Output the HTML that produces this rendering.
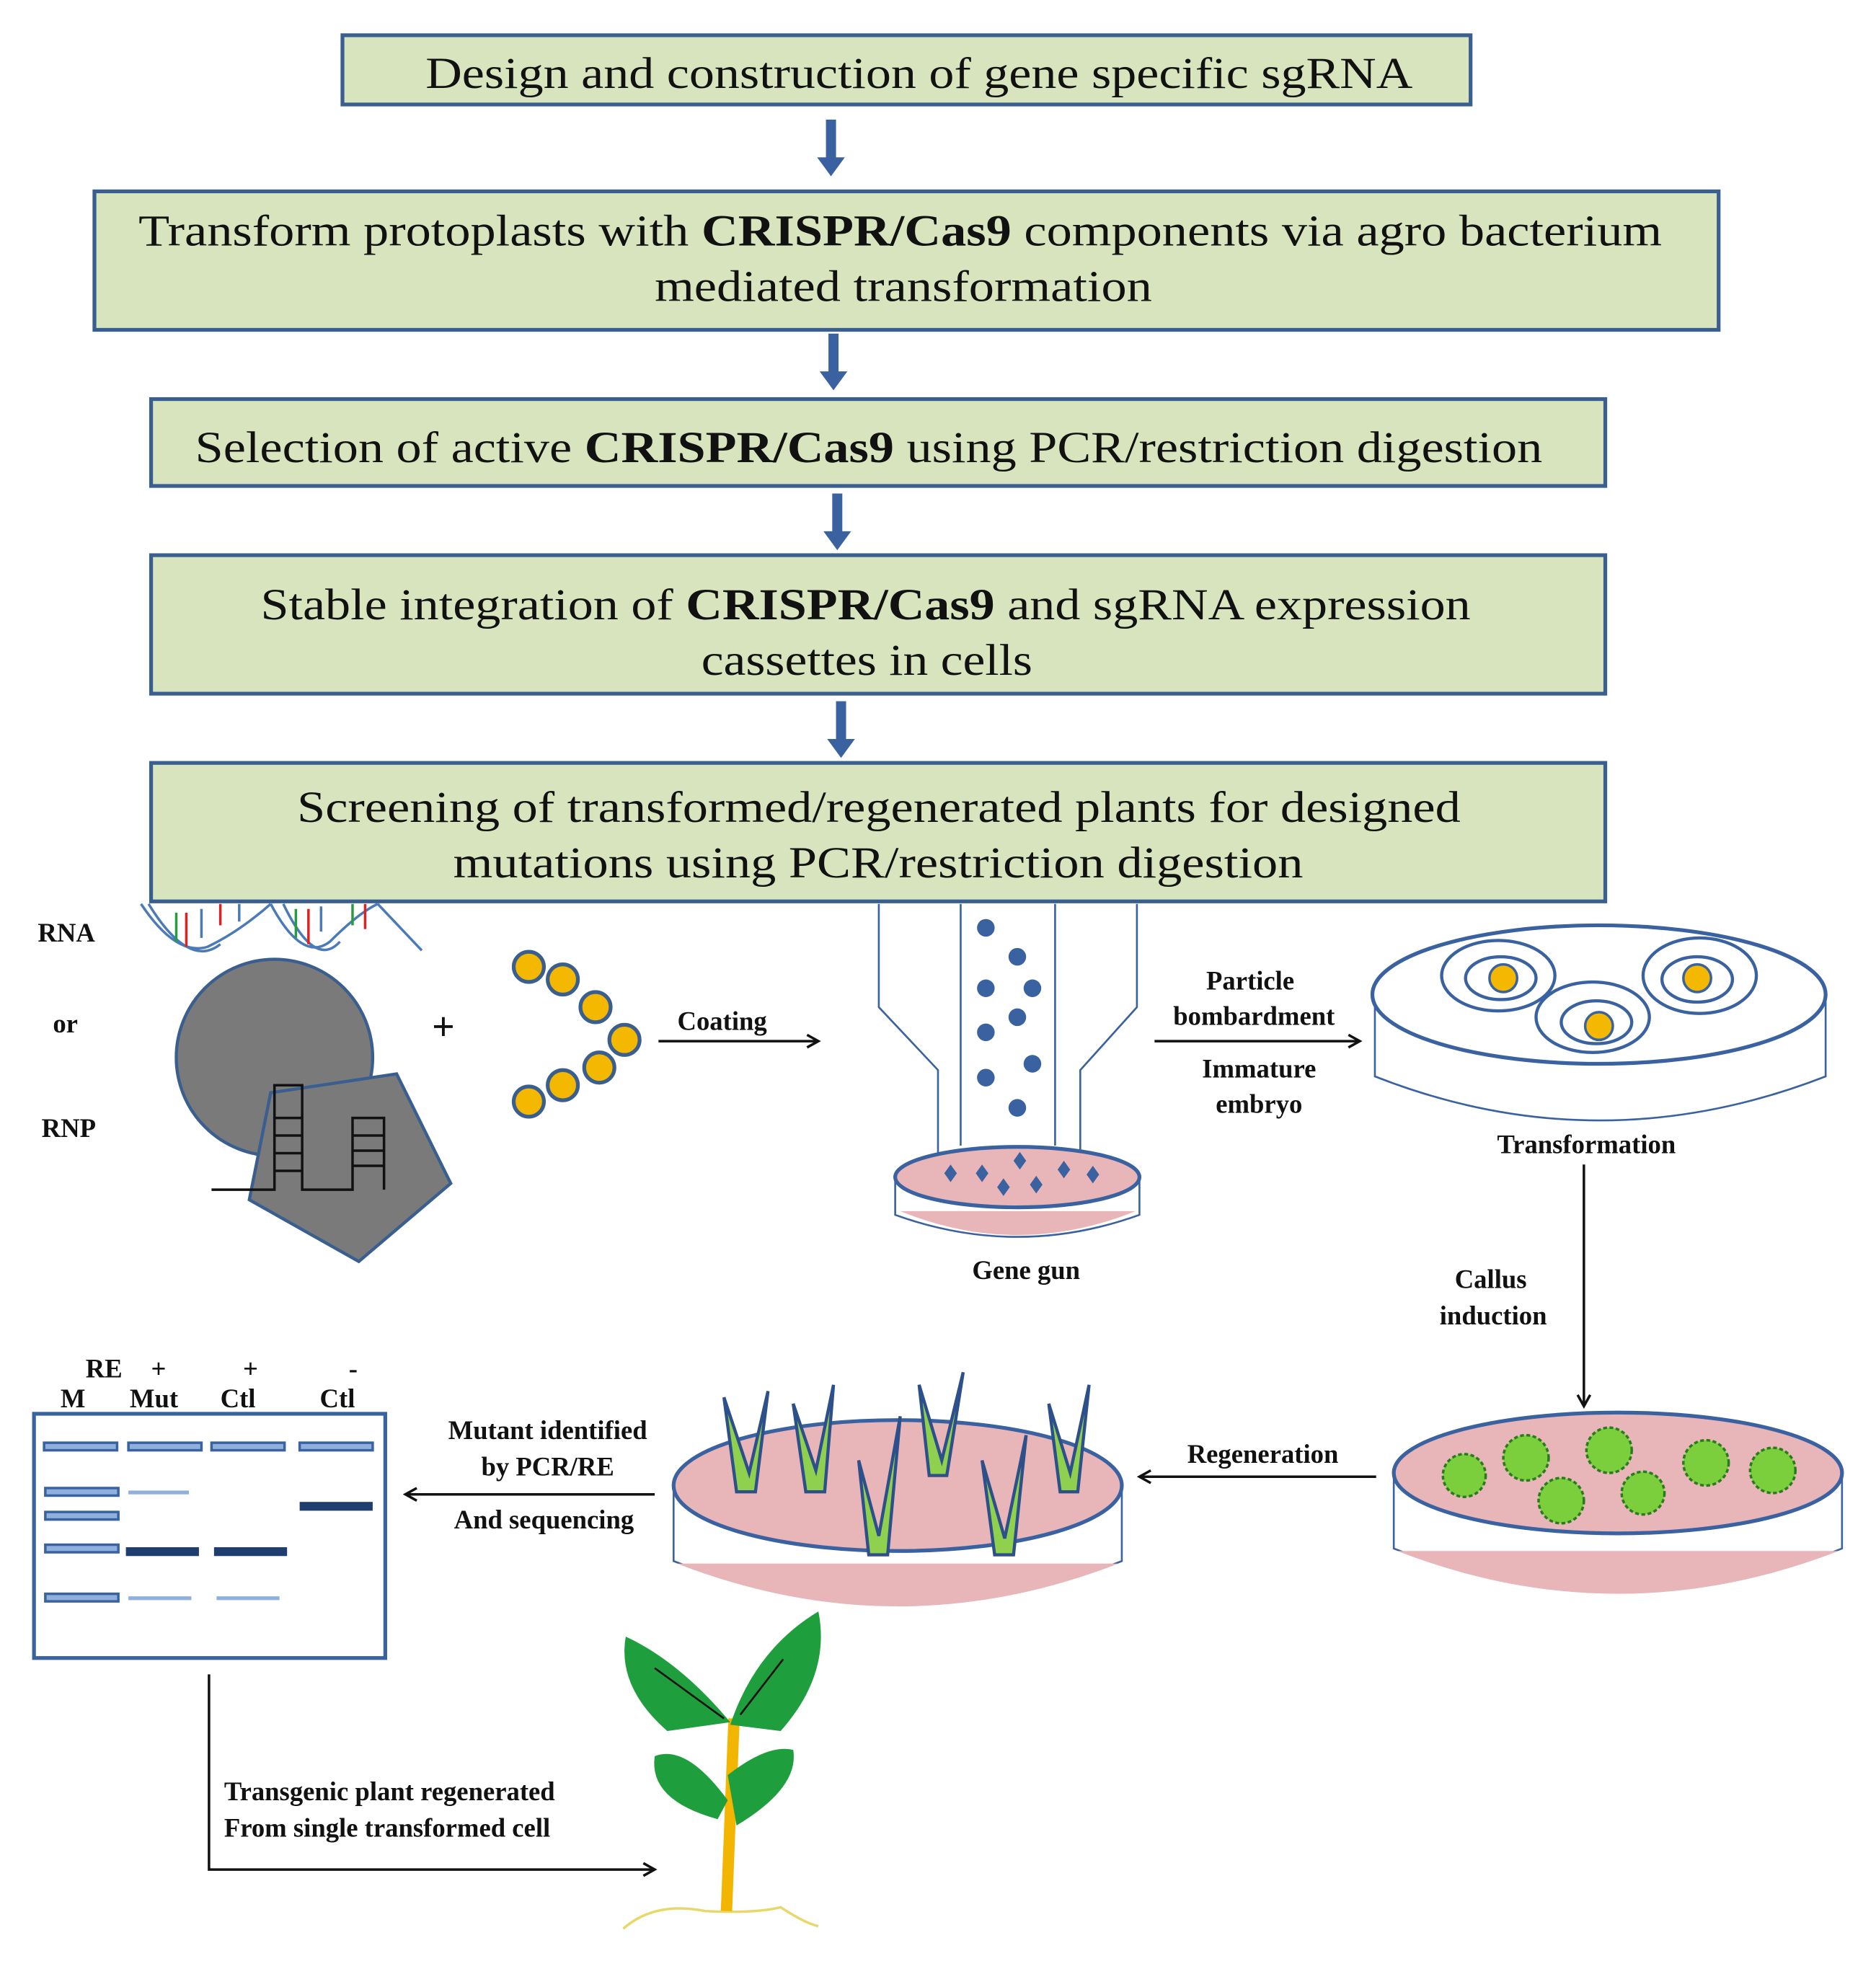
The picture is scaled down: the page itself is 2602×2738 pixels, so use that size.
<!DOCTYPE html>
<html><head><meta charset="utf-8"><style>
html,body{margin:0;padding:0;background:#fff;}
svg{display:block;}
.t{font-family:"Liberation Serif",serif;font-size:35px;fill:#111;}
.b{font-family:"Liberation Serif",serif;font-weight:bold;font-size:21px;fill:#111;}
</style></head><body>
<svg width="2602" height="2738" viewBox="0 0 1490 1568" preserveAspectRatio="none" xmlns="http://www.w3.org/2000/svg">
<defs>
<marker id="ah" markerWidth="12" markerHeight="12" refX="10" refY="6" orient="auto" markerUnits="userSpaceOnUse"><path d="M1,1 L10,6 L1,11" fill="none" stroke="#111" stroke-width="2"/></marker>
<g id="barrow"><rect x="-4" y="0" width="8" height="32" fill="#3a62a0"/><path d="M-11,30 L11,30 L0,45 Z" fill="#3a62a0"/></g>
</defs>
<g fill="#d7e4bd" stroke="#3a5f8f" stroke-width="3">
<rect x="272" y="28" width="896" height="55"/>
<rect x="75" y="152" width="1290" height="110"/>
<rect x="120" y="317" width="1155" height="69"/>
<rect x="120" y="441" width="1155" height="110"/>
<rect x="120" y="606" width="1155" height="110"/>
</g>
<use href="#barrow" x="660" y="95"/>
<use href="#barrow" x="662" y="265"/>
<use href="#barrow" x="665" y="392"/>
<use href="#barrow" x="668" y="557"/>
<text class="t" x="338" y="70" textLength="784" lengthAdjust="spacingAndGlyphs">Design and construction of gene specific sgRNA</text>
<text class="t" x="110" y="195" textLength="1210" lengthAdjust="spacingAndGlyphs">Transform protoplasts with <tspan font-weight="bold">CRISPR/Cas9</tspan> components via agro bacterium</text>
<text class="t" x="520" y="239" textLength="395" lengthAdjust="spacingAndGlyphs">mediated transformation</text>
<text class="t" x="155" y="367" textLength="1070" lengthAdjust="spacingAndGlyphs">Selection of active <tspan font-weight="bold">CRISPR/Cas9</tspan> using PCR/restriction digestion</text>
<text class="t" x="207" y="492" textLength="961" lengthAdjust="spacingAndGlyphs">Stable integration of <tspan font-weight="bold">CRISPR/Cas9</tspan> and sgRNA expression</text>
<text class="t" x="557" y="536" textLength="263" lengthAdjust="spacingAndGlyphs">cassettes in cells</text>
<text class="t" x="236" y="653" textLength="924" lengthAdjust="spacingAndGlyphs">Screening of transformed/regenerated plants for designed</text>
<text class="t" x="360" y="697" textLength="675" lengthAdjust="spacingAndGlyphs">mutations using PCR/restriction digestion</text>

<text class="b" x="30" y="748">RNA</text>
<text class="b" x="42" y="820">or</text>
<text class="b" x="33" y="903">RNP</text>
<g fill="none" stroke="#4a7ab8" stroke-width="2">
<path d="M112,718 Q140,760 165,752 Q190,740 215,718"/>
<path d="M118,718 Q150,770 175,750"/>
<path d="M215,718 Q240,765 262,748 Q285,725 300,718"/>
<path d="M225,718 Q250,770 270,748"/>
<path d="M300,718 L335,755"/>
</g>
<g stroke-width="2"><line x1="140" y1="725" x2="140" y2="748" stroke="#2a9a40"/><line x1="148" y1="725" x2="148" y2="752" stroke="#d22"/><line x1="160" y1="722" x2="160" y2="745" stroke="#4a7ab8"/><line x1="175" y1="718" x2="175" y2="735" stroke="#d22"/><line x1="190" y1="718" x2="190" y2="732" stroke="#4a7ab8"/><line x1="235" y1="722" x2="235" y2="745" stroke="#2a9a40"/><line x1="245" y1="722" x2="245" y2="750" stroke="#d22"/><line x1="255" y1="720" x2="255" y2="740" stroke="#4a7ab8"/><line x1="280" y1="718" x2="280" y2="735" stroke="#2a9a40"/><line x1="290" y1="718" x2="290" y2="738" stroke="#d22"/></g>
<circle cx="218" cy="840" r="78" fill="#7a7a7a" stroke="#3a5f8f" stroke-width="2.5"/>
<polygon points="215,868 315,853 358,940 285,1002 198,953" fill="#7a7a7a" stroke="#3a5f8f" stroke-width="2.5"/>
<g stroke="#111" stroke-width="2" fill="none">
<path d="M168,945 L218,945 L218,862 L240,862 L240,945 L280,945 L280,888 L305,888 L305,945"/>
<line x1="218" y1="888" x2="240" y2="888"/><line x1="218" y1="902" x2="240" y2="902"/><line x1="218" y1="916" x2="240" y2="916"/><line x1="218" y1="930" x2="240" y2="930"/>
<line x1="280" y1="902" x2="305" y2="902"/><line x1="280" y1="914" x2="305" y2="914"/><line x1="280" y1="926" x2="305" y2="926"/>
</g>
<text class="b" x="343" y="826" style="font-size:32px">+</text>
<g fill="#f5b800" stroke="#3a5f8f" stroke-width="3">
<circle cx="420" cy="768" r="12"/><circle cx="447" cy="778" r="12"/><circle cx="473" cy="800" r="12"/><circle cx="496" cy="826" r="12"/><circle cx="476" cy="848" r="12"/><circle cx="447" cy="862" r="12"/><circle cx="420" cy="875" r="12"/>
</g>
<text class="b" x="538" y="818">Coating</text>
<line x1="523" y1="827" x2="650" y2="827" stroke="#111" stroke-width="2" marker-end="url(#ah)"/>
<g fill="none" stroke="#3a62a0" stroke-width="1.5">
<path d="M698,718 L698,800 L745,850 L745,920"/><path d="M903,718 L903,800 L858,850 L858,920"/>
<line x1="763" y1="718" x2="763" y2="910"/><line x1="838" y1="718" x2="838" y2="910"/>
</g>
<g fill="#3a62a0"><circle cx="783" cy="737" r="7"/><circle cx="808" cy="760" r="7"/><circle cx="783" cy="785" r="7"/><circle cx="820" cy="785" r="7"/><circle cx="808" cy="808" r="7"/><circle cx="783" cy="820" r="7"/><circle cx="820" cy="845" r="7"/><circle cx="783" cy="856" r="7"/><circle cx="808" cy="880" r="7"/></g>
<path d="M711,933 L711,965 Q808,1000 905,965 L905,933" fill="#fff" stroke="#3a62a0" stroke-width="1.5"/>
<path d="M715,962 Q808,1000 902,962 Z" fill="#e8b6b8"/>
<ellipse cx="808" cy="935" rx="97" ry="24" fill="#e8b6b8" stroke="#3a62a0" stroke-width="3"/>
<g fill="#3a62a0"><path d="M755,925 l5,7 -5,7 -5,-7z"/><path d="M780,925 l5,7 -5,7 -5,-7z"/><path d="M810,915 l5,7 -5,7 -5,-7z"/><path d="M797,936 l5,7 -5,7 -5,-7z"/><path d="M823,934 l5,7 -5,7 -5,-7z"/><path d="M845,922 l5,7 -5,7 -5,-7z"/><path d="M868,926 l5,7 -5,7 -5,-7z"/></g>
<text class="b" x="815" y="1016" text-anchor="middle">Gene gun</text>
<text class="b" x="993" y="786" text-anchor="middle">Particle</text>
<text class="b" x="996" y="814" text-anchor="middle">bombardment</text>
<line x1="917" y1="827" x2="1080" y2="827" stroke="#111" stroke-width="2" marker-end="url(#ah)"/>
<text class="b" x="1000" y="856" text-anchor="middle">Immature</text>
<text class="b" x="1000" y="884" text-anchor="middle">embryo</text>
<path d="M1092,790 L1092,855 Q1270,925 1450,855 L1450,790" fill="#fff" stroke="#3a62a0" stroke-width="1.5"/>
<ellipse cx="1270" cy="790" rx="180" ry="55" fill="#fff" stroke="#3a62a0" stroke-width="3"/>
<g fill="none" stroke="#3a62a0" stroke-width="2.5">
<ellipse cx="1190" cy="775" rx="45" ry="28"/><ellipse cx="1192" cy="777" rx="28" ry="17"/>
<ellipse cx="1350" cy="775" rx="45" ry="30"/><ellipse cx="1348" cy="778" rx="28" ry="18"/>
<ellipse cx="1265" cy="808" rx="45" ry="28"/><ellipse cx="1268" cy="812" rx="28" ry="17"/>
</g>
<g fill="#f5b800" stroke="#3a62a0" stroke-width="2"><circle cx="1194" cy="777" r="11"/><circle cx="1348" cy="777" r="11"/><circle cx="1270" cy="815" r="11"/></g>
<text class="b" x="1260" y="916" text-anchor="middle">Transformation</text>
<line x1="1258" y1="925" x2="1258" y2="1117" stroke="#111" stroke-width="2" marker-end="url(#ah)"/>
<text class="b" x="1184" y="1023" text-anchor="middle">Callus</text>
<text class="b" x="1186" y="1052" text-anchor="middle">induction</text>
<path d="M1107,1170 L1107,1230 Q1285,1300 1463,1230 L1463,1170" fill="#fff" stroke="#3a62a0" stroke-width="1.5"/>
<path d="M1110,1232 Q1285,1300 1460,1232 Z" fill="#e8b6b8"/>
<ellipse cx="1285" cy="1170" rx="178" ry="48" fill="#e8b6b8" stroke="#3a62a0" stroke-width="3"/>
<g fill="#7ccf3c" stroke="#2a7a20" stroke-width="2" stroke-dasharray="3 2">
<circle cx="1163" cy="1172" r="17"/><circle cx="1212" cy="1158" r="18"/><circle cx="1278" cy="1152" r="18"/><circle cx="1240" cy="1192" r="18"/><circle cx="1305" cy="1186" r="17"/><circle cx="1355" cy="1162" r="18"/><circle cx="1408" cy="1168" r="18"/>
</g>
<line x1="1093" y1="1173" x2="905" y2="1173" stroke="#111" stroke-width="2" marker-end="url(#ah)"/>
<text class="b" x="1003" y="1162" text-anchor="middle">Regeneration</text>
<path d="M535,1180 L535,1240 Q713,1310 891,1240 L891,1180" fill="#fff" stroke="#3a62a0" stroke-width="1.5"/>
<path d="M538,1242 Q713,1310 888,1242 Z" fill="#e8b6b8"/>
<ellipse cx="713" cy="1180" rx="178" ry="52" fill="#e8b6b8" stroke="#3a62a0" stroke-width="3"/>
<g fill="#8fd14f" stroke="#2d4f8a" stroke-width="2.5">
<path d="M575,1110 L585,1185 L600,1185 L610,1105 L595,1170 Z"/>
<path d="M630,1115 L640,1185 L655,1185 L662,1100 L648,1168 Z"/>
<path d="M682,1160 L690,1235 L705,1235 L715,1125 L698,1220 Z"/>
<path d="M730,1100 L738,1172 L752,1172 L765,1090 L748,1160 Z"/>
<path d="M780,1160 L790,1235 L805,1235 L815,1140 L798,1222 Z"/>
<path d="M833,1115 L842,1185 L856,1185 L865,1100 L850,1170 Z"/>
</g>
<line x1="520" y1="1187" x2="322" y2="1187" stroke="#111" stroke-width="2" marker-end="url(#ah)"/>
<text class="b" x="435" y="1143" text-anchor="middle">Mutant identified</text>
<text class="b" x="435" y="1172" text-anchor="middle">by PCR/RE</text>
<text class="b" x="432" y="1214" text-anchor="middle">And sequencing</text>
<text class="b" x="68" y="1094">RE</text><text class="b" x="120" y="1094">+</text><text class="b" x="193" y="1094">+</text><text class="b" x="277" y="1094">-</text>
<text class="b" x="48" y="1118">M</text><text class="b" x="103" y="1118">Mut</text><text class="b" x="175" y="1118">Ctl</text><text class="b" x="254" y="1118">Ctl</text>
<rect x="27" y="1123" width="279" height="194" fill="#fff" stroke="#3a62a0" stroke-width="3"/>
<g fill="#8fb0dc" stroke="#3a62a0" stroke-width="2">
<rect x="35" y="1146" width="58" height="6"/><rect x="102" y="1146" width="58" height="6"/><rect x="168" y="1146" width="58" height="6"/><rect x="238" y="1146" width="58" height="6"/>
<rect x="36" y="1182" width="58" height="6"/><rect x="36" y="1201" width="58" height="6"/><rect x="36" y="1227" width="58" height="6"/><rect x="36" y="1266" width="58" height="6"/>
</g>
<g fill="#1f3d6e"><rect x="100" y="1229" width="58" height="7"/><rect x="170" y="1229" width="58" height="7"/><rect x="238" y="1193" width="58" height="7"/></g>
<g fill="#8fb0dc"><rect x="102" y="1184" width="48" height="3"/><rect x="102" y="1268" width="50" height="3"/><rect x="172" y="1268" width="50" height="3"/></g>
<path d="M166,1330 L166,1485 L520,1485" fill="none" stroke="#111" stroke-width="2" marker-end="url(#ah)"/>
<text class="b" x="178" y="1430">Transgenic plant regenerated</text>
<text class="b" x="178" y="1459">From single transformed cell</text>
<path d="M495,1532 Q520,1510 560,1518 Q600,1520 620,1515 Q640,1528 650,1530" fill="none" stroke="#e8d86a" stroke-width="2"/>
<path d="M583,1365 L577,1518" stroke="#f2b500" stroke-width="9"/>
<path d="M580,1370 Q600,1310 650,1280 Q660,1330 620,1375 Z" fill="#1f9e3e"/>
<path d="M580,1368 Q540,1320 497,1300 Q490,1340 530,1375 Z" fill="#1f9e3e"/>
<path d="M578,1430 Q545,1385 520,1395 Q515,1430 570,1445 Z" fill="#1f9e3e"/>
<path d="M578,1410 Q610,1385 630,1390 Q635,1420 585,1450 Z" fill="#1f9e3e"/>
<line x1="520" y1="1325" x2="575" y2="1365" stroke="#111" stroke-width="1.5"/>
<line x1="622" y1="1318" x2="588" y2="1362" stroke="#111" stroke-width="1.5"/>
</svg>
</body></html>
